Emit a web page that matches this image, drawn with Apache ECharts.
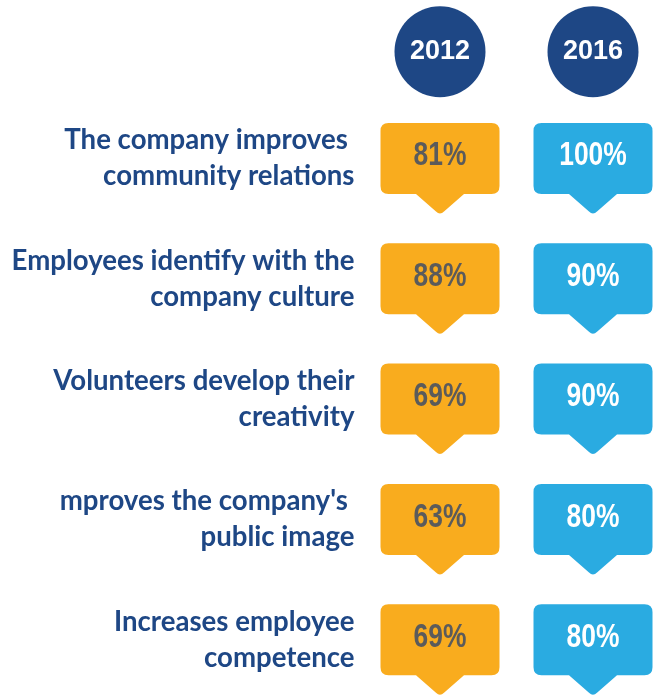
<!DOCTYPE html>
<html>
<head>
<meta charset="utf-8">
<title>Volunteering benefits 2012 vs 2016</title>
<script src="https://cdn.jsdelivr.net/npm/echarts@6/dist/echarts.min.js"></script>
<style>
  html, body { margin: 0; padding: 0; background: #ffffff; }
  #chart { width: 653px; height: 695px; }
</style>
</head>
<body>
<div id="chart"></div>
<script>
// Survey statements (row labels)
const statements = [
  'The company improves \ncommunity relations',
  'Employees identify with the\ncompany culture',
  'Volunteers develop their\ncreativity',
  "mproves the company's \npublic image",
  'Increases employee\ncompetence'
];

// Survey years (column headers)
const years = ['2012', '2016'];

// Share of respondents agreeing, in percent
const values2012 = [81, 88, 69, 63, 69];
const values2016 = [100, 90, 90, 80, 80];

const NAVY = '#1e4785';
const ORANGE = '#f9ac1e';
const BLUE = '#2aabe1';

// Rounded speech bubble with a pointer at the bottom centre
function bubblePath(cx, cy) {
  const w = 119, h = 71, r = 8, tw = 24, th = 21;
  const l = cx - w / 2, rt = cx + w / 2, t = cy - h / 2, b = cy + h / 2;
  return [
    'M', l + r, t,
    'H', rt - r,
    'Q', rt, t, rt, t + r,
    'V', b - r,
    'Q', rt, b, rt - r, b,
    'H', cx + tw,
    'L', cx + 4, b + th - 3.5,
    'Q', cx, b + th + 0.5, cx - 4, b + th - 3.5,
    'L', cx - tw, b,
    'H', l + r,
    'Q', l, b, l, b - r,
    'V', t + r,
    'Q', l, t, l + r, t,
    'Z'
  ].join(' ');
}

function bubbleRenderer(fill, textColor) {
  return function (params, api) {
    const p = api.coord([api.value(0), api.value(1)]);
    return {
      type: 'group',
      children: [
        {
          type: 'path',
          shape: { pathData: bubblePath(p[0], p[1]) },
          style: { fill: fill }
        },
        {
          // condensed figure label centred in the bubble
          type: 'text',
          x: p[0],
          y: p[1] - 2,
          scaleX: 0.8,
          style: {
            text: api.value(2) + '%',
            x: 0,
            y: 0,
            align: 'center',
            verticalAlign: 'middle',
            fill: textColor,
            font: 'bold 33px "Liberation Sans", Arial, sans-serif'
          }
        }
      ]
    };
  };
}

function toSeriesData(col, values) {
  return values.map(function (v, row) { return [col, row, v]; });
}

const chart = echarts.init(document.getElementById('chart'), null, { renderer: 'canvas' });

chart.setOption({
  backgroundColor: '#ffffff',
  animation: false,
  grid: {
    left: 363.5,
    top: 98.2,
    width: 306,
    height: 601.75,
    containLabel: false,
    outerBoundsMode: 'none'
  },
  xAxis: {
    type: 'category',
    position: 'top',
    data: years,
    axisLine: { show: false },
    axisTick: { show: false },
    splitLine: { show: false },
    axisLabel: {
      margin: 1,
      interval: 0,
      width: 91,
      height: 91,
      lineHeight: 91,
      align: 'center',
      backgroundColor: NAVY,
      borderRadius: 45.5,
      color: '#ffffff',
      fontFamily: '"Liberation Sans", Arial, sans-serif',
      fontWeight: 'bold',
      fontSize: 27
    }
  },
  yAxis: {
    type: 'category',
    inverse: true,
    data: statements,
    axisLine: { show: false },
    axisTick: { show: false },
    splitLine: { show: false },
    axisLabel: {
      margin: 9,
      interval: 0,
      align: 'right',
      color: NAVY,
      fontFamily: 'Lato, "Open Sans", sans-serif',
      fontWeight: 'bold',
      fontSize: 27.6,
      lineHeight: 36
    }
  },
  series: [
    {
      name: years[0],
      type: 'custom',
      renderItem: bubbleRenderer(ORANGE, '#5b5b5b'),
      data: toSeriesData(0, values2012)
    },
    {
      name: years[1],
      type: 'custom',
      renderItem: bubbleRenderer(BLUE, '#ffffff'),
      data: toSeriesData(1, values2016)
    }
  ]
});
</script>
</body>
</html>
